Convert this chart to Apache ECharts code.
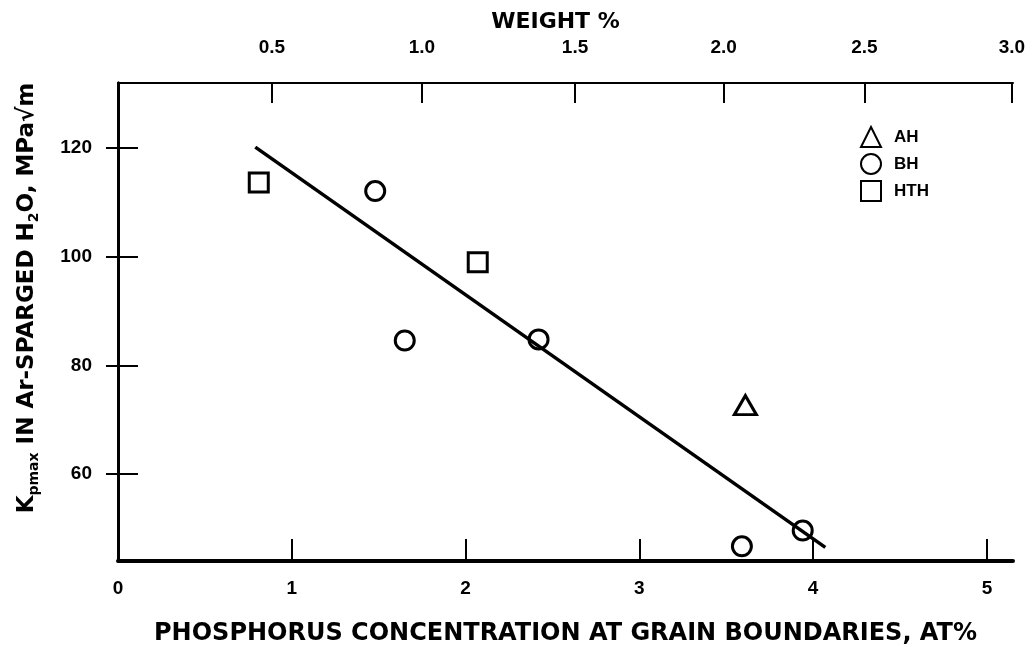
<!DOCTYPE html>
<html>
<head>
<meta charset="utf-8">
<script src="https://cdn.jsdelivr.net/npm/echarts@6/dist/echarts.min.js"></script>
<style>
  html, body { margin: 0; padding: 0; background: #fff; }
  #chart { width: 1035px; height: 647px; }
</style>
</head>
<body>
<div id="chart"></div>
<script>
// dati (AT% al bordo di grano, Kpmax)
var ahX = [3.61];
var ahY = [72.7];
var bhX = [1.48, 1.65, 2.42, 3.59, 3.94];
var bhY = [112.1, 84.6, 84.8, 46.7, 49.6];
var hthX = [0.81, 2.07];
var hthY = [113.7, 99.0];
var fitX = [0.79, 4.07];
var fitY = [120.2, 46.5];

// asse superiore: peso % posizionato in AT%
var weightLabels = ['0.5', '1.0', '1.5', '2.0', '2.5', '3.0'];
var weightPos = [0.886, 1.749, 2.630, 3.485, 4.295, 5.144];
var yTicks = [60, 80, 100, 120];
var xTicks = [0, 1, 2, 3, 4, 5];

var font = "'Liberation Sans', Arial, sans-serif";
var titleFont = "'DejaVu Sans', 'Liberation Sans', sans-serif";

function zip(a, b) { return a.map(function (v, i) { return [v, b[i]]; }); }

var marker = { color: '#fff', borderColor: '#000', borderWidth: 3, opacity: 1 };

var chart = echarts.init(document.getElementById('chart'));
chart.setOption({
  animation: false,
  backgroundColor: '#fff',
  grid: { left: 118, right: 22, top: 83, bottom: 86, outerBoundsMode: 'none', containLabel: false },
  xAxis: [{
    type: 'value', position: 'bottom', min: 0, max: 5.15,
    axisLine: { lineStyle: { color: '#000', width: 4 } },
    axisTick: { inside: true, length: 22, lineStyle: { color: '#000', width: 2 }, customValues: xTicks },
    axisLabel: { customValues: xTicks, margin: 18, color: '#000', fontFamily: font, fontWeight: 'bold', fontSize: 19 },
    splitLine: { show: false },
    name: 'PHOSPHORUS CONCENTRATION AT GRAIN BOUNDARIES, AT%',
    nameLocation: 'middle', nameGap: 61,
    nameTextStyle: { color: '#000', fontFamily: titleFont, fontWeight: 'bold', fontSize: 24 }
  }, {
    type: 'value', position: 'top', min: 0, max: 5.15,
    axisLine: { lineStyle: { color: '#000', width: 2 } },
    axisTick: { inside: true, length: 20, lineStyle: { color: '#000', width: 2 }, customValues: weightPos },
    axisLabel: {
      customValues: weightPos, margin: 26, color: '#000', fontFamily: font, fontWeight: 'bold', fontSize: 19,
      formatter: function (v) {
        var i = weightPos.indexOf(v);
        return i >= 0 ? weightLabels[i] : '';
      }
    },
    splitLine: { show: false },
    name: 'WEIGHT %', nameLocation: 'middle', nameGap: 44,
    nameTextStyle: { color: '#000', fontFamily: titleFont, fontWeight: 'bold', fontSize: 22, padding: [0, 20, 0, 0] }
  }],
  yAxis: [{
    type: 'value', position: 'left', min: 44, max: 132,
    axisLine: { lineStyle: { color: '#000', width: 3 } },
    axisTick: { inside: true, length: 20, lineStyle: { color: '#000', width: 2 }, customValues: yTicks },
    axisLabel: { customValues: yTicks, margin: 26, color: '#000', fontFamily: font, fontWeight: 'bold', fontSize: 19 },
    splitLine: { show: false }
  }, {
    type: 'value', position: 'right', min: 44, max: 132,
    axisLine: { lineStyle: { color: '#000', width: 3 } },
    axisTick: { inside: true, length: 12, lineStyle: { color: '#000', width: 2 }, customValues: yTicks },
    axisLabel: { show: false },
    splitLine: { show: false }
  }],
  legend: {
    orient: 'vertical', left: 855, top: 121, itemWidth: 20, itemHeight: 20, itemGap: 5,
    data: ['AH', 'BH', 'HTH'],
    textStyle: { color: '#000', fontFamily: font, fontWeight: 'bold', fontSize: 17, padding: [0, 0, 0, 8] }
  },
  graphic: [{
    type: 'text', x: 27, y: 298, rotation: Math.PI / 2,
    style: {
      text: '{a|K}{s|pmax}{a| IN Ar-SPARGED H}{s|2}{a|O, MPa√m}',
      align: 'center', verticalAlign: 'middle',
      fill: '#000',
      rich: {
        a: { fontFamily: titleFont, fontWeight: 'bold', fontSize: 23, fill: '#000', lineHeight: 28, verticalAlign: 'middle' },
        s: { fontFamily: titleFont, fontWeight: 'bold', fontSize: 14, fill: '#000', lineHeight: 28, verticalAlign: 'bottom' }
      }
    }
  }],
  series: [{
    name: 'fit', type: 'line', data: zip(fitX, fitY), symbol: 'none',
    lineStyle: { color: '#000', width: 3.5 }, silent: true
  }, {
    name: 'AH', type: 'scatter', data: zip(ahX, ahY), symbol: 'triangle', symbolSize: [22, 19], itemStyle: marker
  }, {
    name: 'BH', type: 'scatter', data: zip(bhX, bhY), symbol: 'circle', symbolSize: 19, itemStyle: marker
  }, {
    name: 'HTH', type: 'scatter', data: zip(hthX, hthY), symbol: 'rect', symbolSize: 19, itemStyle: marker
  }]
});
</script>
</body>
</html>
